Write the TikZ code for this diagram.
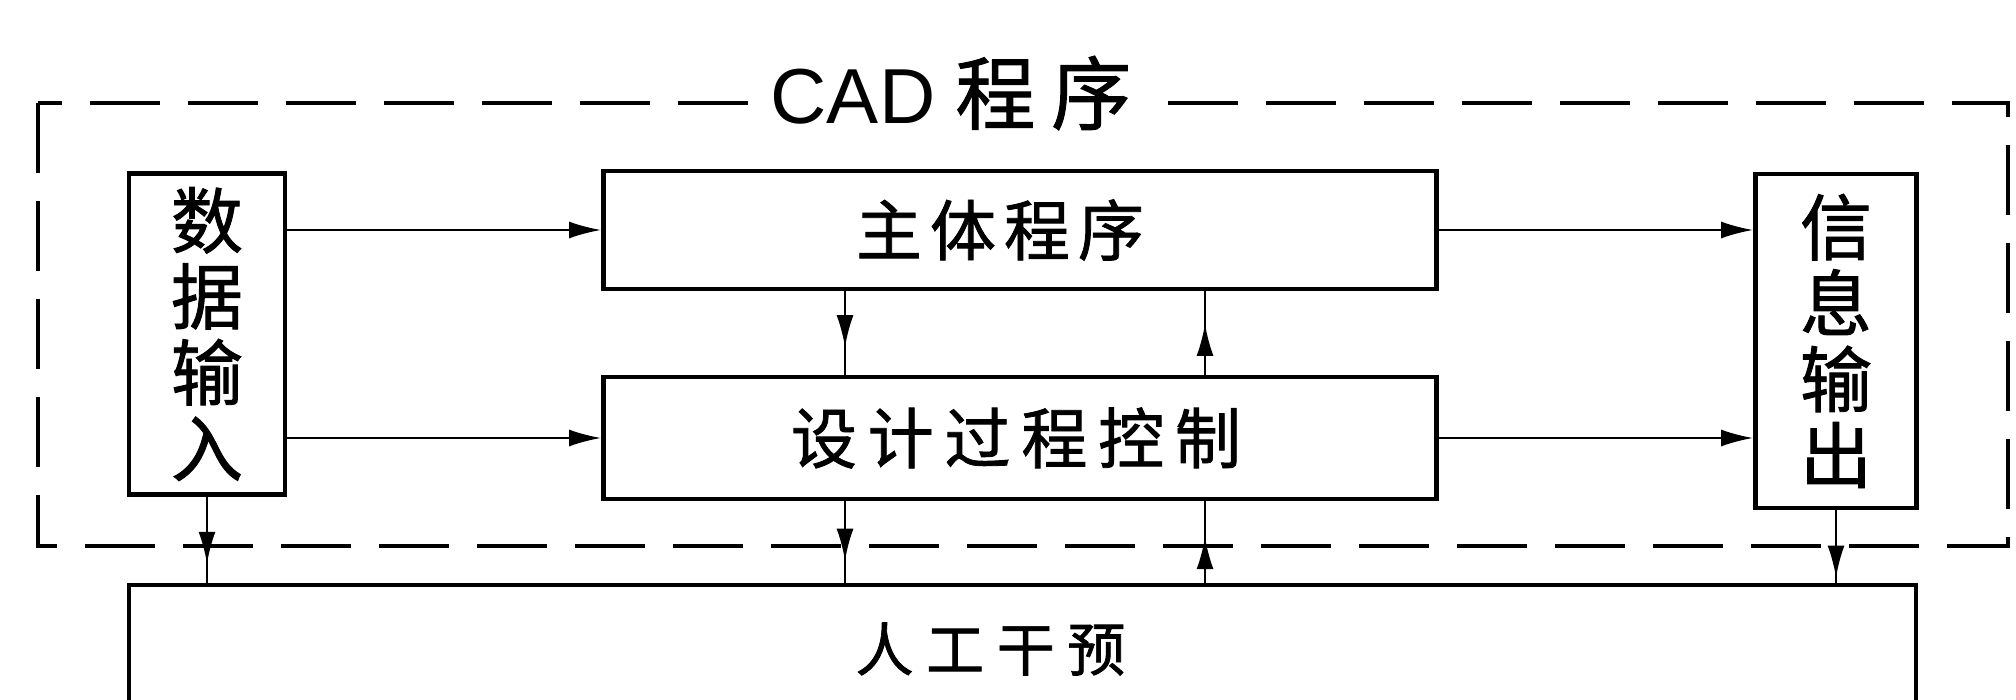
\documentclass[tikz,border=0pt]{standalone}
\usepackage{fontspec}
\setmainfont{Liberation Sans}
\newfontfamily\cjk[FakeBold=1.2]{Noto Sans CJK SC}
\usetikzlibrary{arrows.meta,decorations.markings}
\newcommand\gapA{\hspace{4pt}}
\newcommand\gapB{\hspace{5.4pt}}
\newcommand\gapC{\hspace{6.3pt}}
\begin{document}
\begin{tikzpicture}[x=0.5pt,y=-0.5pt,
  box/.style={draw, line width=2.4pt, inner sep=0pt},
  conn/.style={line width=1.1pt},
  tipA/.style={-{Latex[length=16pt,width=8.5pt]}},
  midarr/.style={postaction={decorate},decoration={markings,
     mark=at position #1 with {\arrow{Latex[length=16pt,width=8.5pt]}}}},
  frame/.style={line width=2pt, dash pattern=on 35pt off 14pt},
  vtext/.style={font=\cjk\fontsize{36pt}{38pt}\selectfont, align=center},
  htext/.style={font=\cjk\fontsize{33pt}{36pt}\selectfont}
]
\useasboundingbox (0,0) rectangle (2016,700);
\clip (0,0) rectangle (2016,700);

% dashed frame
\draw[frame] (38,103) rectangle (2008,546);
\node[fill=white, inner xsep=10pt, inner ysep=2pt] (title) at (951,93)
  {\fontsize{39pt}{42pt}\selectfont CAD\hspace{10pt}{\cjk\fontsize{40pt}{42pt}\selectfont 程\hspace{8pt}序}};

% boxes
\node[box, vtext, minimum width=78pt, minimum height=160.5pt] (input) at (207,334) {数\\据\\输\\入};
\node[box, htext, minimum width=416.5pt, minimum height=59pt] (main) at (1020,230) {\hspace{-20pt}主\gapA 体\gapA 程\gapA 序};
\node[box, htext, minimum width=416.5pt, minimum height=61pt] (design) at (1020,438) {\hspace{-4pt}设\gapB 计\gapB 过\gapB 程\gapB 控\gapB 制};
\node[box, vtext, minimum width=80.5pt, minimum height=167pt] (output) at (1836,341) {信\\息\\输\\出};
\node[box, font=\cjk\fontsize{29pt}{32pt}\selectfont, minimum width=893.5pt, minimum height=64pt] (human) at (1022.5,649) {\hspace{-32pt}人\gapC 工\gapC 干\gapC 预};

% horizontal connectors
\draw[conn,tipA] (input.east |- main.west) -- (main.west);
\draw[conn,tipA] (input.east |- design.west) -- (design.west);
\draw[conn,tipA] (main.east) -- (main.east -| output.west);
\draw[conn,tipA] (design.east) -- (design.east -| output.west);

% vertical connectors
\coordinate (cl) at (845,0);
\coordinate (cr) at (1205,0);
\draw[conn,midarr=0.67] (main.south -| cl) -- (design.north -| cl);
\draw[conn,midarr=0.61] (design.north -| cr) -- (main.south -| cr);
\draw[conn,midarr=0.73] (design.south -| cl) -- (human.north -| cl);
\draw[conn,midarr=0.56] (human.north -| cr) -- (design.south -| cr);
\draw[conn,midarr=0.78] (input.south) -- (human.north -| input.south);
\draw[conn,midarr=0.93] (output.south) -- (human.north -| output.south);
\end{tikzpicture}
\end{document}
